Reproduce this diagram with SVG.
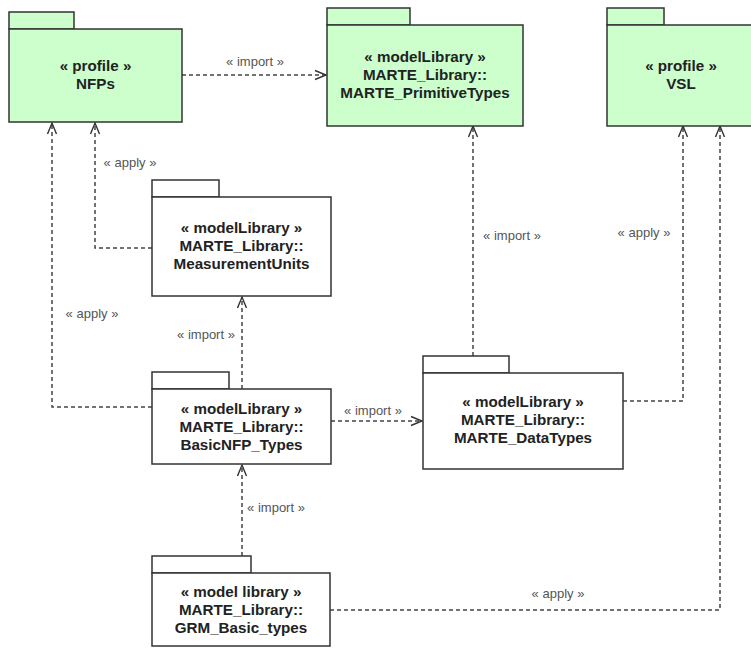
<svg xmlns="http://www.w3.org/2000/svg" width="751" height="648" viewBox="0 0 751 648">
<style>
.pk{fill:#ffffff;stroke:#333333;stroke-width:1.5}
.gr{fill:#ccffcc}
.t{font-family:"Liberation Sans",Arial,sans-serif;font-weight:bold;font-size:15.2px;fill:#222222;text-anchor:middle}
.l{font-family:"Liberation Sans",Arial,sans-serif;font-size:13px;fill:#555555;text-anchor:middle}
.c{fill:none;stroke:#444444;stroke-width:1.5;stroke-dasharray:4 3;marker-end:url(#arr)}
</style>
<defs>
<marker id="arr" markerUnits="userSpaceOnUse" markerWidth="14" markerHeight="12" viewBox="-12 -6 14 12" refX="0" refY="0" orient="auto">
<path d="M-11,-4.5 L0,0 L-11,4.5" fill="none" stroke="#333333" stroke-width="1.4"/>
</marker>
</defs>
<rect width="751" height="648" fill="#ffffff"/>
<g id="connectors">
<path class="c" d="M182,75 H326"/>
<path class="c" d="M152,248 H95 V123"/>
<path class="c" d="M152,407 H52 V123"/>
<path class="c" d="M242,389 V297"/>
<path class="c" d="M331,421 H422"/>
<path class="c" d="M473,356 V126"/>
<path class="c" d="M623,401 H683 V126"/>
<path class="c" d="M242,556 V465"/>
<path class="c" d="M330,610 H720 V126"/>
<text class="l" x="255" y="65.5">« import »</text>
<text class="l" x="130" y="166.5">« apply »</text>
<text class="l" x="92" y="317.5">« apply »</text>
<text class="l" x="206" y="338.5">« import »</text>
<text class="l" x="373" y="415">« import »</text>
<text class="l" x="512" y="239.5">« import »</text>
<text class="l" x="644" y="236.5">« apply »</text>
<text class="l" x="276" y="511.5">« import »</text>
<text class="l" x="558" y="597.5">« apply »</text>
</g>
<g id="nfps">
<rect class="pk gr" x="9" y="12" width="65" height="17"/>
<rect class="pk gr" x="9" y="29" width="173" height="93"/>
<text class="t" x="95.5" y="71">« profile »</text>
<text class="t" x="95.5" y="89">NFPs</text>
</g>
<g id="primitivetypes">
<rect class="pk gr" x="327" y="8" width="83" height="17"/>
<rect class="pk gr" x="327" y="25" width="196" height="101"/>
<text class="t" x="425" y="62">« modelLibrary »</text>
<text class="t" x="425" y="80">MARTE_Library::</text>
<text class="t" x="425" y="98">MARTE_PrimitiveTypes</text>
</g>
<g id="vsl">
<rect class="pk gr" x="607" y="8" width="57" height="17"/>
<rect class="pk gr" x="607" y="25" width="146" height="101"/>
<text class="t" x="681" y="71">« profile »</text>
<text class="t" x="681" y="89">VSL</text>
</g>
<g id="measurementunits">
<rect class="pk" x="152" y="180" width="67" height="17"/>
<rect class="pk" x="152" y="197" width="179" height="99"/>
<text class="t" x="241.5" y="233">« modelLibrary »</text>
<text class="t" x="241.5" y="251">MARTE_Library::</text>
<text class="t" x="241.5" y="269">MeasurementUnits</text>
</g>
<g id="basicnfptypes">
<rect class="pk" x="152" y="372" width="77" height="17"/>
<rect class="pk" x="152" y="389" width="179" height="75"/>
<text class="t" x="241.5" y="414">« modelLibrary »</text>
<text class="t" x="241.5" y="432">MARTE_Library::</text>
<text class="t" x="241.5" y="450">BasicNFP_Types</text>
</g>
<g id="datatypes">
<rect class="pk" x="423" y="356" width="86" height="17"/>
<rect class="pk" x="423" y="373" width="200" height="96"/>
<text class="t" x="523" y="407">« modelLibrary »</text>
<text class="t" x="523" y="425">MARTE_Library::</text>
<text class="t" x="523" y="443">MARTE_DataTypes</text>
</g>
<g id="grmbasictypes">
<rect class="pk" x="152" y="556" width="99" height="17"/>
<rect class="pk" x="152" y="573" width="178" height="73"/>
<text class="t" x="241" y="597">« model library »</text>
<text class="t" x="241" y="615">MARTE_Library::</text>
<text class="t" x="241" y="633">GRM_Basic_types</text>
</g>
</svg>
